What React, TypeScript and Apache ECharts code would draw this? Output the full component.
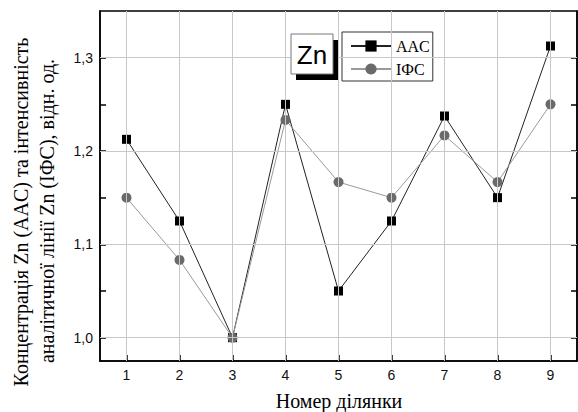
import React, { useEffect, useRef } from "react";
import * as echarts from "echarts";

const categories = [1, 2, 3, 4, 5, 6, 7, 8, 9];
const aacValues = [1.2125, 1.125, 1.0, 1.25, 1.05, 1.125, 1.2375, 1.15, 1.3125];
const ifsValues = [1.15, 1.0833, 1.0, 1.2333, 1.1667, 1.15, 1.2167, 1.1667, 1.25];
const yMajorTicks = [1.0, 1.1, 1.2, 1.3];
const yAllTicks = [1.0, 1.05, 1.1, 1.15, 1.2, 1.25, 1.3];
const seriesNames = ["AAC", "IФС"];
const xAxisTitle = "Номер ділянки";
const yAxisTitle1 = "Концентрація Zn (AAC) та інтенсивність";
const yAxisTitle2 = "аналітичної лінії Zn (ІФС), відн. од.";

const SERIF = "'Liberation Serif', 'DejaVu Serif', serif";
const SANS = "'Liberation Sans', Arial, sans-serif";

export default function App() {
  const ref = useRef<HTMLDivElement>(null);
  useEffect(() => {
    if (!ref.current) return;
    const chart = echarts.init(ref.current, null, { renderer: "svg" });
    const fmt = (v: number) => v.toFixed(1).replace(".", ",");
    const gridLines = [
      ...yMajorTicks.map((v) => ({ yAxis: v })),
      ...categories.map((c) => ({ xAxis: c })),
    ];
    chart.setOption({
      animation: false,
      backgroundColor: "#fff",
      grid: {
        left: 100,
        top: 11,
        right: 1,
        bottom: 51,
        show: true,
        borderColor: "#000",
        borderWidth: 1.5,
        backgroundColor: "transparent",
      },
      legend: {
        orient: "vertical",
        left: 342,
        top: 32,
        data: seriesNames,
        borderColor: "#333",
        borderWidth: 1,
        padding: [6, 3, 4, 8],
        itemWidth: 40,
        itemHeight: 14,
        itemGap: 7,
        textStyle: { fontFamily: SERIF, fontSize: 16, color: "#000" },
      },
      xAxis: {
        type: "value",
        min: 0.5,
        max: 9.5,
        axisLine: { show: true, lineStyle: { color: "#000", width: 1.5 } },
        axisTick: {
          show: true,
          inside: true,
          length: 6,
          customValues: categories,
          lineStyle: { color: "#000", width: 1.5 },
        },
        axisLabel: {
          customValues: categories,
          fontFamily: SANS,
          fontSize: 14,
          color: "#111",
          margin: 7,
        },
        splitLine: { show: false },
      },
      yAxis: [
        {
          type: "value",
          min: 0.975,
          max: 1.35,
          axisLine: { show: true, lineStyle: { color: "#000", width: 1.5 } },
          axisTick: {
            show: true,
            inside: true,
            length: 6,
            customValues: yAllTicks,
            lineStyle: { color: "#000", width: 1.5 },
          },
          axisLabel: {
            customValues: yMajorTicks,
            formatter: fmt,
            fontFamily: SANS,
            fontSize: 14,
            color: "#111",
            margin: 7,
          },
          splitLine: { show: false },
        },
        {
          type: "value",
          min: 0.975,
          max: 1.35,
          position: "right",
          axisLine: { show: true, lineStyle: { color: "#000", width: 1.5 } },
          axisTick: {
            show: true,
            inside: true,
            length: 6,
            customValues: yAllTicks,
            lineStyle: { color: "#000", width: 1.5 },
          },
          axisLabel: { show: false },
          splitLine: { show: false },
        },
      ],
      series: [
        {
          name: "grid",
          type: "line",
          data: [],
          silent: true,
          z: 1,
          markLine: {
            silent: true,
            symbol: "none",
            animation: false,
            label: { show: false },
            lineStyle: { color: "#c8c8c8", width: 1, type: "solid" },
            emphasis: { disabled: true },
            data: gridLines,
          },
        },
        {
          name: seriesNames[0],
          type: "line",
          z: 3,
          data: categories.map((c, i) => [c, aacValues[i]]),
          symbol: "rect",
          symbolSize: 9,
          itemStyle: { color: "#000" },
          lineStyle: { color: "#222", width: 1 },
        },
        {
          name: seriesNames[1],
          type: "line",
          z: 4,
          data: categories.map((c, i) => [c, ifsValues[i]]),
          symbol: "circle",
          symbolSize: 10,
          itemStyle: { color: "#6a6a6a" },
          lineStyle: { color: "#9a9a9a", width: 1 },
        },
      ],
      graphic: [
        {
          type: "rect",
          shape: { x: 296, y: 40, width: 42, height: 40 },
          style: { fill: "#000" },
          z: 10,
        },
        {
          type: "rect",
          shape: { x: 291, y: 34, width: 42, height: 40 },
          style: { fill: "#fff", stroke: "#777", lineWidth: 1 },
          z: 11,
        },
        {
          type: "text",
          x: 312,
          y: 55,
          z: 12,
          style: {
            text: "Zn",
            fontFamily: SANS,
            fontSize: 26,
            fill: "#000",
            align: "center",
            verticalAlign: "middle",
          },
        },
        {
          type: "text",
          x: 21,
          y: 212,
          rotation: Math.PI / 2,
          style: {
            text: yAxisTitle1,
            fontFamily: SERIF,
            fontSize: 20,
            fill: "#000",
            align: "center",
            verticalAlign: "middle",
          },
        },
        {
          type: "text",
          x: 47,
          y: 211,
          rotation: Math.PI / 2,
          style: {
            text: yAxisTitle2,
            fontFamily: SERIF,
            fontSize: 20,
            fill: "#000",
            align: "center",
            verticalAlign: "middle",
          },
        },
        {
          type: "text",
          x: 339,
          y: 401,
          style: {
            text: xAxisTitle,
            fontFamily: SERIF,
            fontSize: 20,
            fill: "#000",
            align: "center",
            verticalAlign: "middle",
          },
        },
      ],
    });
    return () => chart.dispose();
  }, []);
  return <div ref={ref} style={{ width: 578, height: 412, position: "fixed", left: 0, top: 0 }} />;
}
